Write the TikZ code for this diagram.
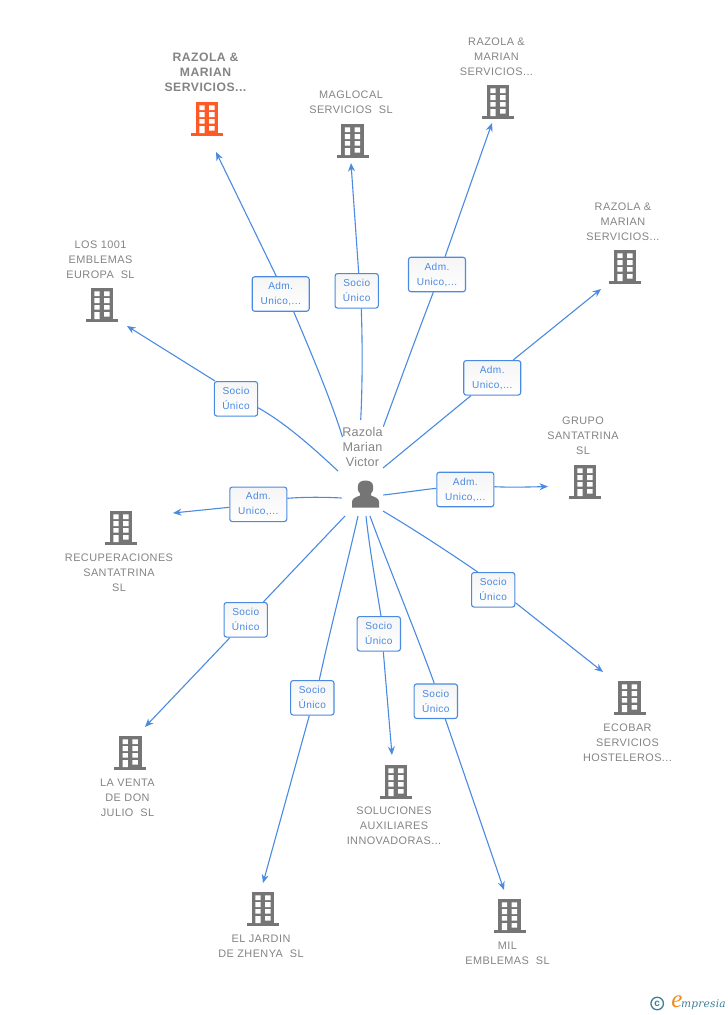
\documentclass[tikz,border=0pt]{standalone}
\usepackage{fontspec}
\setmainfont{Liberation Sans}
\newfontfamily\labfont[LetterSpace=4]{Liberation Sans}
\newfontfamily\boxfont[LetterSpace=4]{Liberation Sans}
\newfontfamily\perfont[LetterSpace=2]{Liberation Sans}
\newfontfamily\logofont[LetterSpace=2]{DejaVu Serif}
\newfontfamily\logoefont{Liberation Serif}
\usetikzlibrary{backgrounds,arrows.meta}
\newcommand{\dn}[1]{\raisebox{-0.8pt}{#1}}
\definecolor{linkblue}{HTML}{4A8AE0}
\definecolor{boxblue}{HTML}{4A8AE0}
\definecolor{labgray}{HTML}{848484}
\definecolor{icongray}{HTML}{757575}
\definecolor{iconorange}{HTML}{FF5A26}
\definecolor{logoteal}{HTML}{3E7F96}
\definecolor{logoorange}{HTML}{F08A1E}
\tikzset{
  x=1pt,y=-1pt,
  conn/.style={draw=linkblue,line width=1.1pt},
  connarrow/.style={conn,-{Stealth[length=8.5pt,width=7pt]}},
  relbox/.style={draw=boxblue,line width=1.1pt,rounded corners=2.5pt,top color=white!96!black,bottom color=white,
    minimum width=57pt,minimum height=34.5pt,inner sep=0pt,align=center,text=boxblue,
    font=\boxfont\fontsize{10.1}{15}\selectfont},
  sociobox/.style={relbox,minimum width=43.3pt},
  complabel/.style={text=labgray,align=center,inner sep=0pt,yshift=-0.5pt,font=\labfont\fontsize{10.9}{15}\selectfont},
  mainlabel/.style={text=labgray,align=center,inner sep=0pt,font=\labfont\bfseries\fontsize{12.2}{15}\selectfont},
  perlabel/.style={text=labgray,align=center,inner sep=0pt,font=\perfont\fontsize{12.6}{15}\selectfont},
  pics/building/.style={code={
    \fill[#1] (-11.3,0) rectangle (11.3,31);
    \fill[#1] (-16,31) rectangle (16,34);
    \fill[white] (-7.7,3.3) rectangle (-2.5,8) (2,3.3) rectangle (7.5,8)
      (-7.7,10) rectangle (-2.5,15) (2,10) rectangle (7.5,15)
      (-7.7,17) rectangle (-2.5,21.5) (2,17) rectangle (7.5,21.5)
      (-7.7,24) rectangle (-2.5,31) (2,24) rectangle (7.5,28.5);
  }},
}
\begin{document}
\begin{tikzpicture}
\useasboundingbox (0,0) rectangle (728,1015);
% person
\node[perlabel] (perlab) at (362.5,446.5) {Razola\\Marian\\Victor};
\node[inner sep=0pt,minimum size=30pt] (person) at (365.5,494) {};
\fill[icongray] (352,507.5) -- (352,502) .. controls (352,498.5) and (355,497.5) .. (360,495.5)
  -- (360,493.5) .. controls (357.5,491) and (357.5,488) .. (358,486) .. controls (358,482.5) and (361,480.5) .. (365.5,480.5)
  .. controls (370,480.5) and (373,482.5) .. (373,486) .. controls (373.5,488) and (373.5,491) .. (371,493.5)
  -- (371,495.5) .. controls (376,497.5) and (379,498.5) .. (379,502) -- (379,507.5) -- cycle;
% labels
\node[mainlabel] (n1) at (205.5,72.5) {RAZOLA \&\\MARIAN\\SERVICIOS...};
\node[complabel] (n2) at (351,102) {MAGLOCAL\\SERVICIOS~ SL};
\node[complabel] (n3) at (496.5,56) {RAZOLA \&\\MARIAN\\SERVICIOS...};
\node[complabel] (n4) at (623,221) {RAZOLA \&\\MARIAN\\SERVICIOS...};
\node[complabel] (n5) at (583,435) {GRUPO\\SANTATRINA\\SL};
\node[complabel] (n6) at (627.5,742) {ECOBAR\\SERVICIOS\\HOSTELEROS...};
\node[complabel] (n7) at (507.5,953) {MIL\\EMBLEMAS~ SL};
\node[complabel] (n8) at (394,825) {SOLUCIONES\\AUXILIARES\\INNOVADORAS...};
\node[complabel] (n9) at (261,945.5) {EL JARDIN\\DE ZHENYA~ SL};
\node[complabel] (n10) at (127.5,797) {LA VENTA\\DE DON\\JULIO~ SL};
\node[complabel] (n11) at (119,572) {RECUPERACIONES\\SANTATRINA\\SL};
\node[complabel] (n12) at (100.5,259) {LOS 1001\\EMBLEMAS\\EUROPA~ SL};
% icons
\pic at (207,102) {building=iconorange};
\pic at (352.5,124) {building=icongray};
\pic at (498,85) {building=icongray};
\pic at (625,250) {building=icongray};
\pic at (585,465) {building=icongray};
\pic at (629.5,681) {building=icongray};
\pic at (509.5,899) {building=icongray};
\pic at (396,765) {building=icongray};
\pic at (263,892) {building=icongray};
\pic at (130.3,736) {building=icongray};
\pic at (121,511) {building=icongray};
\pic at (102,288) {building=icongray};
% relation boxes
\node[relbox] (b1) at (280.7,294) {\dn{Adm.}\\\dn{Unico,...}};
\node[sociobox] (b2) at (356.7,290.8) {\dn{Socio}\\\dn{Único}};
\node[relbox] (b3) at (437,274.5) {\dn{Adm.}\\\dn{Unico,...}};
\node[relbox] (b4) at (492.2,377.8) {\dn{Adm.}\\\dn{Unico,...}};
\node[relbox] (b5) at (465.3,489.5) {\dn{Adm.}\\\dn{Unico,...}};
\node[sociobox] (b6) at (493.2,589.8) {\dn{Socio}\\\dn{Único}};
\node[sociobox] (b7) at (435.8,701.2) {\dn{Socio}\\\dn{Único}};
\node[sociobox] (b8) at (378.8,633.8) {\dn{Socio}\\\dn{Único}};
\node[sociobox] (b9) at (312.3,697.8) {\dn{Socio}\\\dn{Único}};
\node[sociobox] (b10) at (245.7,619.8) {\dn{Socio}\\\dn{Único}};
\node[relbox] (b11) at (258.3,504.3) {\dn{Adm.}\\\dn{Unico,...}};
\node[sociobox] (b12) at (236,398.8) {\dn{Socio}\\\dn{Único}};
% free ends
\coordinate (s1) at (342.5,437); \coordinate (e1) at (216,152);
\coordinate (s2) at (360.7,420); \coordinate (e2) at (351,163);
\coordinate (s3) at (383.3,426.7); \coordinate (e3) at (492,123);
\coordinate (s4) at (383,468);   \coordinate (e4) at (601,289);
\coordinate (s5) at (383.3,495); \coordinate (e5) at (548,486.5);
\coordinate (s6) at (383,511);   \coordinate (e6) at (603,672);
\coordinate (s7) at (370,516);   \coordinate (e7) at (504,890);
\coordinate (s8) at (366,516);   \coordinate (e8) at (392,755);
\coordinate (s9) at (358,516);   \coordinate (e9) at (263,883);
\coordinate (s10) at (345,516);  \coordinate (e10) at (145,727);
\coordinate (s11) at (341.7,498); \coordinate (e11) at (173,513);
\coordinate (s12) at (338,471);  \coordinate (e12) at (127,326);
\begin{scope}[on background layer]
\draw[conn] (s1) .. controls (331,400) and (310,350) .. ([xshift=13pt]b1.south);
\draw[connarrow] ([xshift=-4.4pt]b1.north) -- (e1);
\draw[conn] (s2) .. controls (362.5,385) and (362.5,345) .. ([xshift=4.6pt]b2.south);
\draw[connarrow] ([xshift=2pt]b2.north) -- (e2);
\draw[conn] (s3) .. controls (395,395) and (415,340) .. ([xshift=-3.7pt]b3.south);
\draw[connarrow] ([xshift=8pt]b3.north) -- (e3);
\draw[conn] (s4) -- ([xshift=-21.2pt]b4.south);
\draw[connarrow] ([xshift=21pt]b4.north) -- (e4);
\draw[conn] (s5) .. controls (405,492.5) and (420,490) .. ([yshift=1.2pt]b5.west);
\draw[connarrow] ([yshift=2.8pt]b5.east) .. controls (510,487.5) and (530,487) .. (e5);
\draw[conn] (s6) .. controls (415,530) and (450,553) .. ([xshift=-15.5pt]b6.north);
\draw[connarrow] ([yshift=-12.9pt]b6.east) -- (e6);
\draw[conn] (s7) .. controls (384,555) and (415,630) .. ([xshift=-1.5pt]b7.north);
\draw[connarrow] ([xshift=9.5pt]b7.south) -- (e7);
\draw[conn] (s8) .. controls (369,545) and (376,585) .. ([xshift=2.2pt]b8.north);
\draw[connarrow] ([xshift=4.5pt]b8.south) -- (e8);
\draw[conn] (s9) .. controls (347,565) and (330,630) .. ([xshift=7pt]b9.north);
\draw[connarrow] ([xshift=-3pt]b9.south) -- (e9);
\draw[conn] (s10) -- ([xshift=17.6pt]b10.north);
\draw[connarrow] ([xshift=-15.7pt]b10.south) -- (e10);
\draw[conn] (s11) .. controls (322,497) and (305,497) .. ([yshift=6pt]b11.east);
\draw[connarrow] ([yshift=-3pt]b11.west) -- (e11);
\draw[conn] (s12) .. controls (310,445) and (285,423) .. ([yshift=-9pt]b12.east);
\draw[connarrow] ([xshift=-21pt]b12.north) -- (e12);
\end{scope}
% logo
\node[draw=logoteal,line width=1.3pt,circle,minimum size=12.5pt,inner sep=0pt,text=logoteal,font=\fontsize{10}{10}\selectfont\bfseries] (copyr) at (657.2,1003.5) {c};
\node[text=logoorange,inner sep=0pt,font=\logoefont\fontsize{25}{25}\selectfont\itshape] (logoe) at (677,1001.5) {e};
\node[text=logoteal,inner sep=0pt,anchor=west,font=\logofont\fontsize{10.6}{10.6}\selectfont\itshape] (logot) at (681,1004.5) {mpresia};
\end{tikzpicture}
\end{document}
